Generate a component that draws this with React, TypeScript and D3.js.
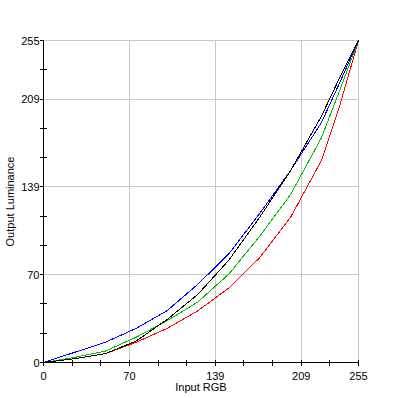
import React from "react";
import * as d3 from "d3";

const WIDTH = 398;
const HEIGHT = 398;

// input values where curves were sampled
const inputs = [0, 25, 50, 75, 100, 125, 150, 175, 200, 225, 240, 255];
const blueValues = [0, 8, 16, 27, 41, 62, 86, 118, 152, 190, 222, 255];
const blackValues = [0, 3, 7, 17, 34, 54, 81, 115, 152, 195, 226, 255];
const greenValues = [0, 4, 9, 20, 33, 48, 70, 100, 133, 178, 216, 255];
const redValues = [0, 3, 7, 16, 27, 41, 59, 83, 115, 160, 204, 255];

const tickCount = 11;
const labelIdx = [0, 3, 6, 9, 11];

const series = [
  { name: "red", color: "#ff0000", values: redValues },
  { name: "green", color: "#00c000", values: greenValues },
  { name: "blue", color: "#0000ff", values: blueValues },
  { name: "black", color: "#000000", values: blackValues },
];

const App = () => {
  const x = d3.scaleLinear().domain([0, 255]).range([43.5, 358.5]);
  const y = d3.scaleLinear().domain([0, 255]).range([362.5, 40.5]);

  const ticks = d3.range(tickCount + 1).map((i) => (i * 255) / tickCount);
  const gridTicks = labelIdx.map((i) => ticks[i]).filter((t) => t > 0);

  const line = d3
    .line<number>()
    .x((_, i) => x(inputs[i]))
    .y((d) => y(d));

  const font = "'Liberation Sans', Arial, sans-serif";

  return (
    <svg
      width={WIDTH}
      height={HEIGHT}
      style={{ position: "absolute", left: 0, top: 0, background: "#fff" }}
      fontFamily={font}
      fontSize={11}
    >
      {/* grid */}
      <g stroke="#c8c8c8" shapeRendering="crispEdges">
        {gridTicks.map((t) => (
          <line key={"gx" + t} x1={x(t)} x2={x(t)} y1={y(255)} y2={y(0)} />
        ))}
        {gridTicks.map((t) => (
          <line key={"gy" + t} x1={x(0)} x2={x(255)} y1={y(t)} y2={y(t)} />
        ))}
      </g>

      {/* curves */}
      <g fill="none" strokeWidth={1} shapeRendering="crispEdges">
        {series.map((s) => (
          <path key={s.name} d={line(s.values) || ""} stroke={s.color} />
        ))}
      </g>

      {/* axes */}
      <g stroke="#000" shapeRendering="crispEdges">
        <line x1={x(0)} x2={x(0)} y1={y(255)} y2={y(0)} />
        <line x1={x(0)} x2={x(255)} y1={y(0)} y2={y(0)} />
        {ticks.map((t, i) => {
          const major = labelIdx.includes(i);
          return (
            <g key={"t" + i}>
              <line
                x1={x(0) - 4}
                x2={major ? x(0) : x(0) + 3}
                y1={y(t)}
                y2={y(t)}
              />
              <line
                x1={x(t)}
                x2={x(t)}
                y1={y(0) - 3}
                y2={y(0) + 3}
              />
            </g>
          );
        })}
      </g>

      {/* tick labels */}
      <g fill="#000">
        {labelIdx.map((i) => (
          <text
            key={"ly" + i}
            x={x(0) - 4}
            y={y(ticks[i])}
            textAnchor="end"
            dominantBaseline="central"
          >
            {Math.round(ticks[i])}
          </text>
        ))}
        {labelIdx.map((i) => (
          <text
            key={"lx" + i}
            x={x(ticks[i])}
            y={y(0) + 13}
            textAnchor="middle"
            dominantBaseline="central"
          >
            {Math.round(ticks[i])}
          </text>
        ))}
        <text
          x={(x(0) + x(255)) / 2}
          y={387}
          textAnchor="middle"
          dominantBaseline="central"
        >
          Input RGB
        </text>
        <text
          transform={`translate(10, ${(y(0) + y(255)) / 2}) rotate(-90)`}
          textAnchor="middle"
          dominantBaseline="central"
        >
          Output Luminance
        </text>
      </g>
    </svg>
  );
};

export default App;
